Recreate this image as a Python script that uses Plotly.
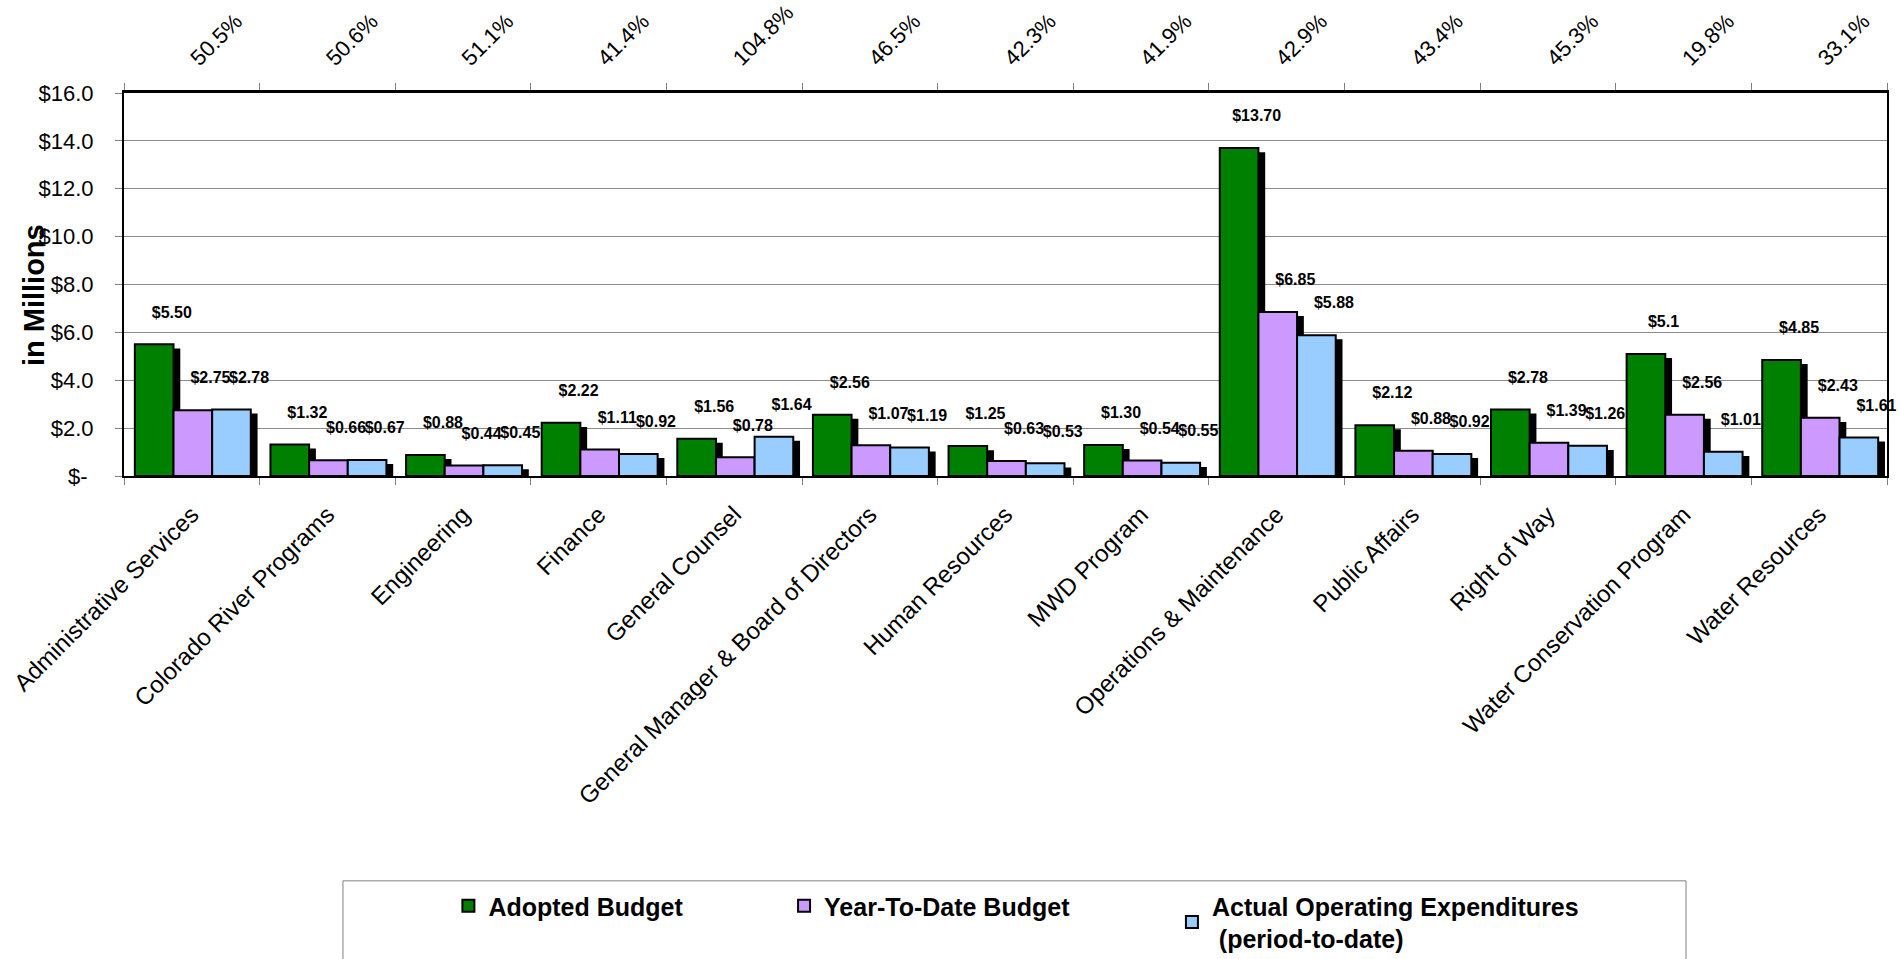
import plotly.graph_objects as go

categories = ["Administrative Services", "Colorado River Programs", "Engineering", "Finance",
              "General Counsel", "General Manager & Board of Directors", "Human Resources",
              "MWD Program", "Operations & Maintenance", "Public Affairs", "Right of Way",
              "Water Conservation Program", "Water Resources"]

adopted = [5.50, 1.32, 0.88, 2.22, 1.56, 2.56, 1.25, 1.30, 13.70, 2.12, 2.78, 5.10, 4.85]
ytd = [2.75, 0.66, 0.44, 1.11, 0.78, 1.28, 0.63, 0.65, 6.85, 1.06, 1.39, 2.56, 2.43]
actual = [2.78, 0.67, 0.45, 0.92, 1.64, 1.19, 0.53, 0.55, 5.88, 0.92, 1.26, 1.01, 1.61]

adopted_text = ["$5.50", "$1.32", "$0.88", "$2.22", "$1.56", "$2.56", "$1.25", "$1.30",
                "$13.70", "$2.12", "$2.78", "$5.1", "$4.85"]
ytd_text = ["$2.75", "$0.66", "$0.44", "$1.11", "$0.78", "$1.07", "$0.63", "$0.54",
            "$6.85", "$0.88", "$1.39", "$2.56", "$2.43"]
actual_text = ["$2.78", "$0.67", "$0.45", "$0.92", "$1.64", "$1.19", "$0.53", "$0.55",
               "$5.88", "$0.92", "$1.26", "$1.01", "$1.61"]

pct_labels = ["50.5%", "50.6%", "51.1%", "41.4%", "104.8%", "46.5%", "42.3%", "41.9%",
              "42.9%", "43.4%", "45.3%", "19.8%", "33.1%"]

y_tickvals = [0, 2, 4, 6, 8, 10, 12, 14, 16]
y_ticktext = ["$-\u00a0", "$2.0", "$4.0", "$6.0", "$8.0",
              "$10.0", "$12.0", "$14.0", "$16.0"]

series = [
    ("Adopted Budget", adopted, adopted_text, "#008000", "legend"),
    ("Year-To-Date Budget", ytd, ytd_text, "#CC99FF", "legend2"),
    ("Actual Operating Expenditures<br> (period-to-date)", actual, actual_text, "#99CCFF", "legend3"),
]

FONT = "Liberation Sans, Arial, sans-serif"
BAR_W = 0.285
offsets = [-0.42, -0.135, 0.15]
SH_DX = 0.05
SH_DY = 0.17
LABEL_DX = 0.13

fig = go.Figure()
for (name, vals, txt, color, lg), off in zip(series, offsets):
    fig.add_trace(go.Bar(
        x=categories, y=[v - SH_DY for v in vals], width=BAR_W, offset=off + SH_DX,
        marker=dict(color="black", line=dict(width=0)), showlegend=False, hoverinfo="skip"))
    fig.add_trace(go.Bar(
        x=categories, y=vals, width=BAR_W, offset=off, name=name, legend=lg,
        marker=dict(color=color, line=dict(color="black", width=2))))

# data labels (Excel-style: shifted right and lifted above the bars)
for (name, vals, txt, color, lg), off in zip(series, offsets):
    fig.add_trace(go.Bar(
        x=categories, y=vals, width=BAR_W, offset=off + LABEL_DX, showlegend=False,
        hoverinfo="skip", marker=dict(color="rgba(0,0,0,0)", line=dict(width=0)),
        text=txt, texttemplate="%{text}<br>\u00a0", textposition="outside",
        constraintext="none", cliponaxis=False,
        textfont=dict(family=FONT, size=16, color="black", weight="bold")))

fig.add_trace(go.Scatter(x=categories, y=adopted, xaxis="x2", mode="markers",
                         marker=dict(opacity=0), showlegend=False, hoverinfo="skip"))

xr = [-0.5, len(categories) - 0.5]
LEG_Y = -1.0627
leg_common = dict(y=LEG_Y, xanchor="left", yanchor="top",
                  bgcolor="rgba(0,0,0,0)", font=dict(size=25, family=FONT, weight="bold"))
fig.update_layout(
    width=1900, height=959, autosize=False,
    margin=dict(l=124, r=13, t=93, b=483, autoexpand=False),
    paper_bgcolor="white", plot_bgcolor="white",
    barmode="overlay",
    font=dict(family=FONT, color="black"),
    xaxis=dict(type="category", range=xr, tickson="boundaries", ticks="outside", ticklen=7,
               tickcolor="#808080", tickangle=-45, tickfont=dict(size=24, family=FONT),
               showline=True, linecolor="black", linewidth=2, showgrid=False,
               ticklabelstandoff=13, automargin=False),
    xaxis2=dict(type="category", overlaying="x", side="top", range=xr, tickson="boundaries",
                ticks="outside", ticklen=7, tickcolor="#808080", tickangle=-45,
                tickmode="array", tickvals=categories, ticktext=pct_labels,
                tickfont=dict(size=22, family=FONT), showline=True, linecolor="black",
                linewidth=3, showgrid=False, ticklabelstandoff=11, automargin=False),
    yaxis=dict(range=[0, 16], tickmode="array", tickvals=y_tickvals, ticktext=y_ticktext,
               ticks="outside", ticklen=7, tickcolor="#808080", tickfont=dict(size=22, family=FONT),
               ticklabelstandoff=17, automargin=False,
               showline=True, linecolor="black", linewidth=2, mirror=True,
               showgrid=True, gridcolor="#8c8c8c", gridwidth=1, zeroline=False),
    legend=dict(x=0.184, **leg_common),
    legend2=dict(x=0.3744, **leg_common),
    legend3=dict(x=0.5944, **leg_common),
    shapes=[dict(type="rect", xref="paper", yref="paper", x0=0.1242, x1=0.886,
                 y0=-1.057, y1=-1.35, line=dict(color="#808080", width=1),
                 fillcolor="rgba(0,0,0,0)", layer="below")],
    annotations=[dict(text="<b>in Millions</b>", textangle=-90, xref="paper", yref="paper",
                      x=-0.051, y=0.4726, xanchor="center", yanchor="middle", showarrow=False,
                      font=dict(size=29, family=FONT, color="black"))],
)

fig.write_html("out.html")
